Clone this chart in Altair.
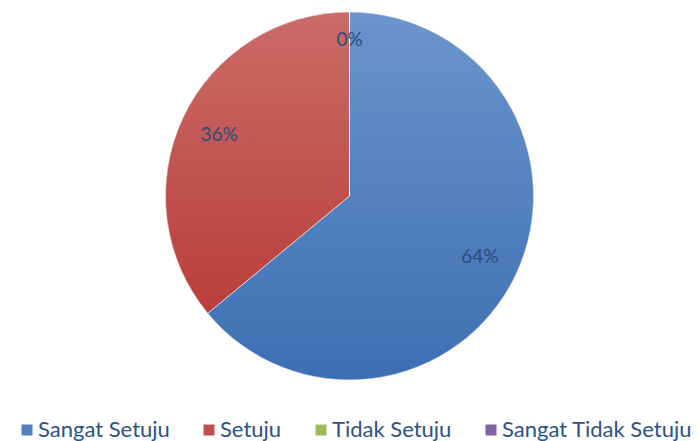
import altair as alt
import pandas as pd

categories = ["Sangat Setuju", "Setuju", "Tidak Setuju", "Sangat Tidak Setuju"]
values = [64, 36, 0, 0]
colors = ["#4F81BD", "#C0504D", "#9BBB59", "#8064A2"]

df = pd.DataFrame({"kategori": categories, "nilai": values, "urut": list(range(len(categories)))})

grad_blue = alt.Gradient(gradient="linear", x1=0, x2=0, y1=0, y2=1,
                         stops=[alt.GradientStop(color="#6B95CB", offset=0),
                                alt.GradientStop(color="#3C6FB3", offset=1)])
grad_red = alt.Gradient(gradient="linear", x1=0, x2=0, y1=0, y2=1,
                        stops=[alt.GradientStop(color="#CA6C68", offset=0),
                               alt.GradientStop(color="#B93E3B", offset=1)])

CX, CY = 341.5, 188

base = alt.Chart(df).encode(
    theta=alt.Theta("nilai:Q", stack=True),
    order=alt.Order("urut:Q"),
    x=alt.value(CX),
    y=alt.value(CY),
)

pie = base.mark_arc(outerRadius=184).encode(
    color=alt.Color("kategori:N",
                    scale=alt.Scale(domain=categories, range=colors),
                    sort=categories,
                    legend=alt.Legend(title=None, orient="none", direction="horizontal",
                                      legendX=8, legendY=411,
                                      symbolType="square", symbolSize=121,
                                      symbolStrokeWidth=0,
                                      labelFont="Lato", labelFontSize=22,
                                      labelColor="#2E5285", labelOffset=0,
                                      columnPadding=28, labelLimit=400))
)

pie_grad = base.mark_arc(outerRadius=184, stroke="#ffffff", strokeWidth=0.6).encode(
    fill=alt.condition(alt.datum.kategori == "Sangat Setuju",
                       alt.value(grad_blue), alt.value(grad_red))
)

labels = base.transform_window(
    rn="row_number()", groupby=["nilai"], sort=[alt.SortField("urut", order="ascending")]
).transform_filter(
    "datum.nilai > 0 || datum.rn == 1"
).transform_calculate(
    teks="datum.nilai + '%'",
    rlab="datum.nilai == 0 ? 156 : 144",
).mark_text(font="Lato", fontSize=19, color="#2C4D7D", baseline="middle").encode(
    text="teks:N",
    radius=alt.Radius("rlab:Q", scale=None),
)

chart = alt.layer(pie, pie_grad, labels).properties(
    width=683, height=433, padding=0,
    autosize=alt.AutoSizeParams(type="none"),
).configure_view(stroke=None)

chart.save("out.html", embed_options={"renderer": "svg", "actions": False})
